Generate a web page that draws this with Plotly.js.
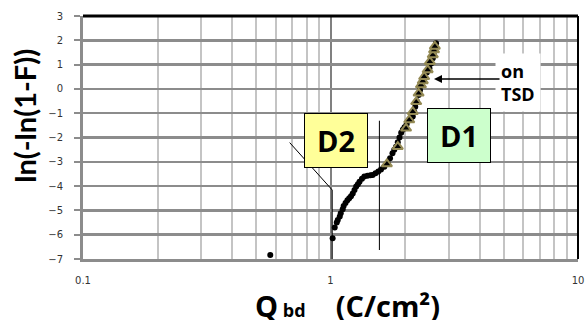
<!DOCTYPE html>
<html>
<head>
<meta charset="utf-8">
<script src="https://cdn.plot.ly/plotly-3.0.1.min.js"></script>
<style>html,body{margin:0;padding:0;background:#fff;}#chart{width:588px;height:324px;}</style>
</head>
<body>
<div id="chart"></div>
<script>
// Black dots: all samples (Qbd, ln(-ln(1-F)))
const blackQ = [0.571, 1.02, 1.04, 1.06, 1.07, 1.09, 1.10, 1.12, 1.13, 1.15, 1.17, 1.19, 1.21, 1.23, 1.25, 1.27, 1.29, 1.31, 1.34, 1.37, 1.41, 1.45, 1.48, 1.52, 1.56, 1.60, 1.65, 1.70, 1.74, 1.78, 1.81, 1.84, 1.87, 1.90, 1.93, 1.96, 1.99, 2.03, 2.07, 2.11, 2.15, 2.18, 2.20, 2.23, 2.27, 2.30, 2.32, 2.36, 2.39, 2.45, 2.51, 2.55, 2.59, 2.63, 2.67];
const blackY = [-6.84, -6.15, -5.70, -5.50, -5.40, -5.25, -5.12, -4.95, -4.82, -4.70, -4.58, -4.50, -4.42, -4.30, -4.16, -4.02, -3.92, -3.82, -3.70, -3.61, -3.57, -3.55, -3.54, -3.47, -3.40, -3.32, -3.20, -3.05, -2.85, -2.65, -2.50, -2.38, -2.20, -2.00, -1.80, -1.68, -1.58, -1.45, -1.30, -1.22, -1.14, -0.95, -0.73, -0.50, -0.25, -0.05, 0.16, 0.33, 0.50, 0.68, 0.85, 1.05, 1.26, 1.55, 1.88];
// Triangles: samples "on TSD"
const tsdQ = [1.69, 1.87, 2.02, 2.08, 2.15, 2.22, 2.27, 2.32, 2.36, 2.39, 2.47, 2.52, 2.59, 2.62, 2.64];
const tsdY = [-3.09, -2.38, -1.62, -1.28, -0.94, -0.53, -0.18, 0.16, 0.33, 0.50, 0.78, 1.12, 1.40, 1.60, 1.75];
// Leader / divider lines
const d2LeaderQ = [0.684, 1.016, 1.016];
const d2LeaderY = [-2.21, -4.16, -7.0];
const dividerQ = [1.576, 1.576];
const dividerY = [-1.31, -6.63];
// Labels
const xTickVals = [0.1, 1, 10];
const xTickText = ['0.1', '1', '10'];
const yTickVals = [3, 2, 1, 0, -1, -2, -3, -4, -5, -6, -7];
const boxLabels = ['D2', 'D1'];
const boxQ = [1.055, 3.30];
const boxY = [-2.12, -1.92];
const boxColors = ['#ffff99', '#ccffcc'];

const FONT = 'Lato, "Open Sans", sans-serif';
const WIDE = '"Open Sans", Lato, sans-serif';

const traces = [
  {x: d2LeaderQ, y: d2LeaderY, mode: 'lines', line: {color: '#000', width: 1}, hoverinfo: 'skip', cliponaxis: false},
  {x: dividerQ, y: dividerY, mode: 'lines', line: {color: '#000', width: 1}, hoverinfo: 'skip'},
  {x: blackQ, y: blackY, mode: 'markers', marker: {symbol: 'circle', size: 6, color: '#000'}},
  {x: tsdQ, y: tsdY, mode: 'markers', marker: {symbol: 'triangle-up', size: 9, color: '#000', line: {color: '#948a54', width: 2}}}
];

const annotations = [];
boxLabels.forEach((t, i) => {
  annotations.push({
    x: Math.log10(boxQ[i]), y: boxY[i], xref: 'x', yref: 'y',
    text: '<b>' + t + '</b>', showarrow: false,
    font: {family: WIDE, size: 29, color: '#000'},
    bgcolor: boxColors[i], bordercolor: '#000', borderwidth: 1, borderpad: 0,
    width: 62, height: 53
  });
});
annotations.push({
  x: Math.log10(4.63), y: 0.284, xref: 'x', yref: 'y', xanchor: 'left', yanchor: 'middle',
  text: '<b>on<br>TSD</b>', showarrow: false, align: 'left',
  font: {family: WIDE, size: 18, color: '#000'},
  bgcolor: '#fff', borderpad: 5
});
annotations.push({
  x: Math.log10(2.62), y: 0.41, xref: 'x', yref: 'y',
  text: '', showarrow: true, ax: 67, ay: 0,
  arrowhead: 2, arrowsize: 1, arrowwidth: 1.6, arrowcolor: '#000', standoff: 0
});
annotations.push({
  x: -0.117, y: 0.59, xref: 'paper', yref: 'paper', xanchor: 'center', yanchor: 'middle',
  text: '<b>ln(-ln(1-F))</b>', showarrow: false, textangle: -90,
  font: {family: FONT, size: 29, color: '#000'}
});
annotations.push({
  x: 0.535, y: -0.189, xref: 'paper', yref: 'paper', xanchor: 'center', yanchor: 'middle',
  text: '<b>Q<span style="font-size:18px">\u00a0bd</span>\u00a0\u00a0\u00a0\u00a0(C/cm\u00b2)</b>', showarrow: false,
  font: {family: WIDE, size: 29, color: '#000'}, height: 30
});

const layout = {
  width: 588, height: 324,
  margin: {l: 83, r: 10, t: 16, b: 65},
  paper_bgcolor: '#fff', plot_bgcolor: '#fff',
  showlegend: false,
  xaxis: {
    type: 'log', range: [-1, 1],
    tickvals: xTickVals, ticktext: xTickText,
    showgrid: true, gridcolor: '#808080', gridwidth: 2,
    minor: {dtick: 'D1', showgrid: true, gridcolor: '#c4c4c4', gridwidth: 2, ticks: ''},
    showline: true, linecolor: '#8c8c8c', linewidth: 3,
    ticks: '', zeroline: false,
    ticklabelstandoff: 10,
    tickfont: {family: 'DejaVu Sans', size: 10, color: '#333'}
  },
  yaxis: {
    range: [-7, 3], tickvals: yTickVals,
    showgrid: true, gridcolor: '#8c8c8c', gridwidth: 2.5,
    showline: true, linecolor: '#8c8c8c', linewidth: 3,
    ticks: 'outside', ticklen: 6, tickwidth: 2, tickcolor: '#8c8c8c',
    zeroline: false,
    ticklabelstandoff: 9,
    tickfont: {family: 'DejaVu Sans', size: 10, color: '#333'}
  },
  shapes: [
    {type: 'line', xref: 'paper', yref: 'paper', x0: 0, x1: 1, y0: 1, y1: 1, line: {color: '#000', width: 3}},
    {type: 'line', xref: 'paper', yref: 'paper', x0: 1, x1: 1, y0: 0, y1: 1, line: {color: '#000', width: 2}}
  ],
  annotations: annotations
};

Plotly.newPlot('chart', traces, layout, {displayModeBar: false, staticPlot: true});
</script>
</body>
</html>
